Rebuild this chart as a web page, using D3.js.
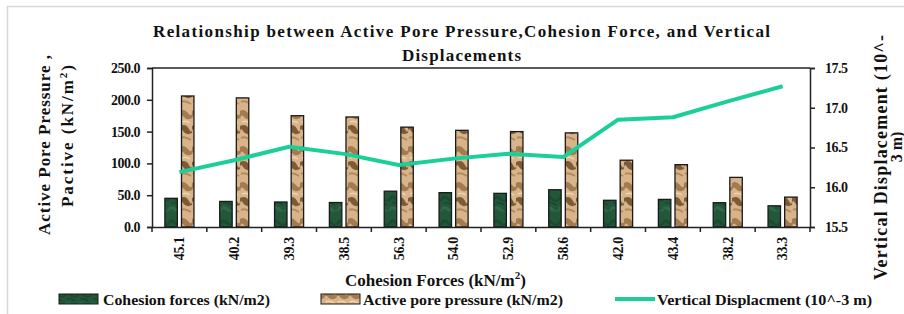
<!DOCTYPE html>
<html><head><meta charset="utf-8">
<script src="https://cdn.jsdelivr.net/npm/d3@7"></script>
<style>body{margin:0;background:#fff}svg{display:block}</style>
</head><body><div id="chart"></div>
<script>
const categories = ["45.1","40.2","39.3","38.5","56.3","54.0","52.9","58.6","42.0","43.4","38.2","33.3"];
const cohesion = [45.1,40.2,39.3,38.5,56.3,54.0,52.9,58.6,42.0,43.4,38.2,33.3];
const porePressure = [206,203,175,173,157,152,150,148,105,98,78,47];
const displacement = [16.19,16.34,16.51,16.42,16.28,16.36,16.42,16.38,16.85,16.88,17.08,17.27];
const leftTicks = [0,50,100,150,200,250];
const rightTicks = [15.5,16.0,16.5,17.0,17.5];

const FONT = "Liberation Serif";
const W=904,H=314;
const m={l:152,r:810,t:68,b:227};
const svg=d3.select("#chart").append("svg").attr("width",W).attr("height",H)
  .attr("font-family",FONT).attr("font-weight","bold");
const defs=svg.append("defs");

// textures
const pg=defs.append("pattern").attr("id","greenTex").attr("patternUnits","userSpaceOnUse").attr("width",13).attr("height",24);
pg.append("rect").attr("width",13).attr("height",24).attr("fill","#22573a");
pg.append("path").attr("d","M0,4 Q4,2 7,6 T13,5 L13,9 Q8,11 5,8 T0,9Z").attr("fill","#1a4a2f");
pg.append("path").attr("d","M0,15 Q5,13 8,17 T13,16 L13,19 Q7,21 4,18 T0,20Z").attr("fill","#2f6a47");
pg.append("path").attr("d","M2,11 Q6,10 10,13").attr("stroke","#163f28").attr("fill","none").attr("stroke-width",1.2);

const pt=defs.append("pattern").attr("id","tanTex").attr("patternUnits","userSpaceOnUse").attr("width",12).attr("height",36);
pt.append("rect").attr("width",12).attr("height",36).attr("fill","#d8b48a");
pt.append("path").attr("d","M0,3 Q4,0 8,5 T12,4 L12,10 Q7,13 4,9 T0,11Z").attr("fill","#a47b50");
pt.append("path").attr("d","M0,18 Q6,15 9,21 T12,20 L12,25 Q6,28 3,23 T0,26Z").attr("fill","#7e5a36");
pt.append("path").attr("d","M1,30 Q5,28 11,32").attr("stroke","#b58a5c").attr("fill","none").attr("stroke-width",2);
pt.append("path").attr("d","M2,14 Q6,12 10,15").attr("stroke","#eed4b0").attr("fill","none").attr("stroke-width",1.5);

// frame
svg.append("path").attr("d","M7.5,314 L7.5,6.5 L904,6.5").attr("fill","none").attr("stroke","#d9d9d9").attr("stroke-width",1.5);

const x0=d3.scaleBand().domain(categories).range([m.l,m.r]);
const bw=x0.bandwidth();
const x1=d3.scaleBand().domain(["c","p"]).range([bw*0.235,bw*0.765]).paddingInner(0.25);
const yL=d3.scaleLinear().domain([0,250]).range([m.b,m.t]);
const yR=d3.scaleLinear().domain([15.5,17.5]).range([m.b,m.t]);

svg.append("line").attr("x1",m.l).attr("x2",m.r).attr("y1",m.t).attr("y2",m.t).attr("stroke","#222").attr("stroke-width",1.5);

const g=svg.append("g");
categories.forEach((c,i)=>{
  g.append("rect").attr("x",x0(c)+x1("c")).attr("width",x1.bandwidth()).attr("y",yL(cohesion[i])).attr("height",yL(0)-yL(cohesion[i]))
    .attr("fill","url(#greenTex)").attr("stroke","#1a1a1a").attr("stroke-width",1.3);
  g.append("rect").attr("x",x0(c)+x1("p")).attr("width",x1.bandwidth()).attr("y",yL(porePressure[i])).attr("height",yL(0)-yL(porePressure[i]))
    .attr("fill","url(#tanTex)").attr("stroke","#1a1a1a").attr("stroke-width",1.3);
});

function styleAxis(a){
  a.attr("font-family",FONT).attr("font-weight","bold");
  a.selectAll("path,line").attr("stroke","#222").attr("stroke-width",1.5);
  a.selectAll("text").attr("font-size",14).attr("fill","#111");
}
const axL=svg.append("g").attr("transform",`translate(${m.l},0)`).call(d3.axisLeft(yL).tickValues(leftTicks).tickFormat(d3.format(".1f")).tickSizeOuter(0).tickSize(5).tickPadding(7));
const axR=svg.append("g").attr("transform",`translate(${m.r},0)`).call(d3.axisRight(yR).tickValues(rightTicks).tickFormat(d3.format(".1f")).tickSizeOuter(0).tickSize(5).tickPadding(10));
const axB=svg.append("g").attr("transform",`translate(0,${m.b})`).call(d3.axisBottom(x0).tickSize(0).tickSizeOuter(0));
[axL,axR,axB].forEach(styleAxis);
axL.selectAll("text").attr("letter-spacing","-0.5");
axR.selectAll("text").attr("letter-spacing","-0.5");
svg.append("g").selectAll("line").data(d3.range(categories.length+1)).join("line")
  .attr("x1",i=>m.l+i*bw).attr("x2",i=>m.l+i*bw).attr("y1",m.b).attr("y2",m.b+5).attr("stroke","#222").attr("stroke-width",1.5);
axB.selectAll("text").attr("transform","rotate(-90)").attr("text-anchor","end").attr("x",-10).attr("y",0).attr("dy","0.35em").attr("font-size",14).attr("letter-spacing","-0.3");

svg.append("path").datum(displacement).attr("fill","none").attr("stroke","#1ccf98").attr("stroke-width",4).attr("stroke-linejoin","round")
  .attr("d",d3.line().x((d,i)=>x0(categories[i])+bw/2).y(d=>yR(d)));

const T=(sel)=>sel.attr("fill","#111");
T(svg.append("text").attr("x",153).attr("y",37).attr("textLength",617).attr("lengthAdjust","spacing").attr("font-size",17)
  .text("Relationship between  Active Pore Pressure,Cohesion Force, and Vertical"));
T(svg.append("text").attr("x",402).attr("y",61).attr("textLength",119).attr("lengthAdjust","spacing").attr("font-size",17).text("Displacements"));

T(svg.append("text").attr("transform","translate(50,235) rotate(-90)").attr("textLength",180).attr("lengthAdjust","spacing").attr("font-size",17).text("Active Pore Pressure ,"));
const t2=T(svg.append("text").attr("transform","translate(73,207) rotate(-90)").attr("textLength",142).attr("lengthAdjust","spacing").attr("font-size",17));
t2.append("tspan").text("Pactive (kN/m");
t2.append("tspan").attr("dy",-6).attr("font-size",11).text("2");
t2.append("tspan").attr("dy",6).text(")");

T(svg.append("text").attr("transform","translate(887,280) rotate(-90)").attr("textLength",245).attr("lengthAdjust","spacing").attr("font-size",18).text("Vertical Displacement  (10^-"));
T(svg.append("text").attr("transform","translate(902,147) rotate(-90)").attr("text-anchor","middle").attr("font-size",16).text("3 m)"));

const xt=T(svg.append("text").attr("x",345).attr("y",286).attr("font-size",17));
xt.append("tspan").text("Cohesion Forces (kN/m");
xt.append("tspan").attr("dy",-7).attr("font-size",11).text("2");
xt.append("tspan").attr("dy",7).text(")");

const lg=svg.append("g");
lg.append("rect").attr("x",59).attr("y",294).attr("width",39).attr("height",10).attr("fill","url(#greenTex)").attr("stroke","#1a1a1a").attr("stroke-width",1);
T(lg.append("text").attr("x",103).attr("y",305).attr("textLength",167).attr("lengthAdjust","spacingAndGlyphs").attr("font-size",14).text("Cohesion forces (kN/m2)"));
lg.append("rect").attr("x",321).attr("y",294).attr("width",39).attr("height",10).attr("fill","url(#tanTex)").attr("stroke","#1a1a1a").attr("stroke-width",1);
T(lg.append("text").attr("x",363).attr("y",305).attr("textLength",200).attr("lengthAdjust","spacingAndGlyphs").attr("font-size",14).text("Active pore pressure (kN/m2)"));
lg.append("line").attr("x1",615).attr("x2",655).attr("y1",299).attr("y2",299).attr("stroke","#1ccf98").attr("stroke-width",4);
T(lg.append("text").attr("x",657).attr("y",305).attr("textLength",215).attr("lengthAdjust","spacingAndGlyphs").attr("font-size",14).text("Vertical Displacment (10^-3 m)"));
</script></body></html>
